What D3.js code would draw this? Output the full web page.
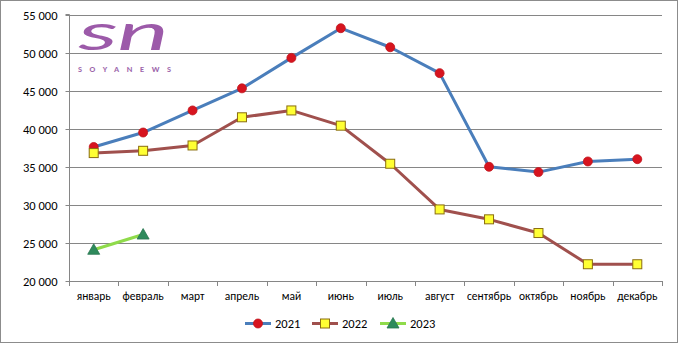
<!DOCTYPE html>
<html>
<head>
<meta charset="utf-8">
<script src="https://cdn.jsdelivr.net/npm/d3@7"></script>
<style>
  html, body { margin: 0; padding: 0; background: #fff; }
  svg { display: block; }
  text { font-family: Carlito, Calibri, "Liberation Sans", Arial, sans-serif; }
</style>
</head>
<body>
<svg id="chart" width="678" height="344"></svg>
<script>
// Monthly figures
const months = ["январь", "февраль", "март", "апрель", "май", "июнь", "июль", "август", "сентябрь", "октябрь", "ноябрь", "декабрь"];
const years = ["2021", "2022", "2023"];
const values2021 = [37600, 39500, 42400, 45300, 49300, 53200, 50700, 47300, 35000, 34300, 35700, 36000];
const values2022 = [36800, 37100, 37800, 41500, 42400, 40400, 35400, 29400, 28100, 26300, 22200, 22200];
const values2023 = [24100, 26100];
const yTicks = [20000, 25000, 30000, 35000, 40000, 45000, 50000, 55000];

const svg = d3.select("#chart");
const W = 678, H = 344;
const plot = { left: 69, right: 662, top: 14.5, bottom: 281 };

// frame around the whole chart
svg.append("rect")
  .attr("x", 0.5).attr("y", 0.5).attr("width", W - 1).attr("height", H - 2)
  .attr("fill", "#fff").attr("stroke", "#8c8c8c").attr("stroke-width", 1);

const x = d3.scaleBand().domain(months).range([plot.left, plot.right]).paddingInner(0).paddingOuter(0);
const y = d3.scaleLinear().domain([20000, 55000]).range([plot.bottom, plot.top]);

const fmt = v => d3.format(",")(v).replace(/,/g, "\u00a0");

// horizontal gridlines
svg.append("g")
  .selectAll("line").data(yTicks.slice(1)).join("line")
  .attr("x1", plot.left).attr("x2", plot.right)
  .attr("y1", d => Math.round(y(d)) + 0.5).attr("y2", d => Math.round(y(d)) + 0.5)
  .attr("stroke", "#868686").attr("stroke-width", 1);

// logo
const logo = svg.append("g");
logo.append("text")
  .attr("transform", "translate(78,50) scale(1.85,1)")
  .attr("font-family", "'DejaVu Sans', sans-serif")
  .attr("font-style", "oblique")
  .attr("font-size", 54)
  .attr("fill", "#9c5aa9")
  .text("sn");
logo.append("text")
  .attr("x", 78).attr("y", 72)
  .attr("font-family", "'DejaVu Sans', sans-serif")
  .attr("font-weight", "bold")
  .attr("font-size", 8.5)
  .attr("letter-spacing", 7.6)
  .attr("fill", "#9d66ab")
  .text("SOYANEWS");

// y axis
const yAxis = svg.append("g")
  .attr("transform", `translate(${plot.left + 0.5},0)`)
  .call(d3.axisLeft(y).tickValues(yTicks).tickFormat(fmt).tickSize(4).tickPadding(8));
yAxis.select(".domain").attr("stroke", "#868686").attr("d", `M-4,${plot.top}H0V${plot.bottom}`);
yAxis.selectAll(".tick line").attr("stroke", "#868686");
yAxis.selectAll(".tick text").attr("font-size", 12.5).attr("fill", "#000");
yAxis.selectAll(".tick").attr("transform", d => `translate(0,${Math.round(y(d)) + 0.5})`);

// x axis with ticks on category boundaries
const xAxis = svg.append("g")
  .attr("transform", `translate(0,${plot.bottom + 0.5})`)
  .call(d3.axisBottom(x).tickSize(0).tickPadding(10));
xAxis.select(".domain").attr("stroke", "#868686").attr("d", `M${plot.left},0H${plot.right}`);
xAxis.selectAll(".tick text").attr("font-size", 11.5).attr("fill", "#000");
svg.append("g").selectAll("line")
  .data(d3.range(months.length + 1))
  .join("line")
  .attr("x1", i => Math.round(plot.left + i * x.bandwidth()) + 0.5)
  .attr("x2", i => Math.round(plot.left + i * x.bandwidth()) + 0.5)
  .attr("y1", plot.bottom).attr("y2", plot.bottom + 5)
  .attr("stroke", "#868686");

const cx = (d, i) => x(months[i]) + x.bandwidth() / 2;
const line = d3.line().x((d, i) => cx(d, i)).y(d => y(d));

const series = [
  { name: years[0], values: values2021, line: "#4a7ebb", fill: "#d7141f", stroke: "#c0141c", shape: "circle" },
  { name: years[1], values: values2022, line: "#a0504d", fill: "#ffff33", stroke: "#8a6d10", shape: "square" },
  { name: years[2], values: values2023, line: "#8fdb4a", fill: "#2e8a5c", stroke: "#2a7650", shape: "triangle" }
];

function marker(g, s, px, py) {
  if (s.shape === "circle") {
    g.append("circle").attr("cx", px).attr("cy", py).attr("r", 4.5)
      .attr("fill", s.fill).attr("stroke", s.stroke).attr("stroke-width", 0.8);
  } else if (s.shape === "square") {
    g.append("rect").attr("x", px - 4.5).attr("y", py - 4.5).attr("width", 9).attr("height", 9)
      .attr("fill", s.fill).attr("stroke", s.stroke).attr("stroke-width", 1);
  } else {
    g.append("path").attr("d", `M${px},${py - 6}L${px + 6},${py + 4.5}L${px - 6},${py + 4.5}Z`)
      .attr("fill", s.fill).attr("stroke", s.stroke).attr("stroke-width", 0.8);
  }
}

series.forEach(s => {
  const g = svg.append("g");
  g.append("path").datum(s.values).attr("d", line)
    .attr("fill", "none").attr("stroke", s.line).attr("stroke-width", 3)
    .attr("stroke-linejoin", "round");
  s.values.forEach((v, i) => marker(g, s, cx(v, i), y(v)));
});

// legend
const legendX = [245, 312, 380];
series.forEach((s, k) => {
  const g = svg.append("g");
  const lx = legendX[k], ly = 323.5;
  g.append("line").attr("x1", lx).attr("x2", lx + 26).attr("y1", ly).attr("y2", ly)
    .attr("stroke", s.line).attr("stroke-width", 3);
  marker(g, s, lx + 13, ly);
  g.append("text").attr("x", lx + 30).attr("y", ly + 4.5)
    .attr("font-size", 12.5).attr("fill", "#000").text(s.name);
});
</script>
</body>
</html>
